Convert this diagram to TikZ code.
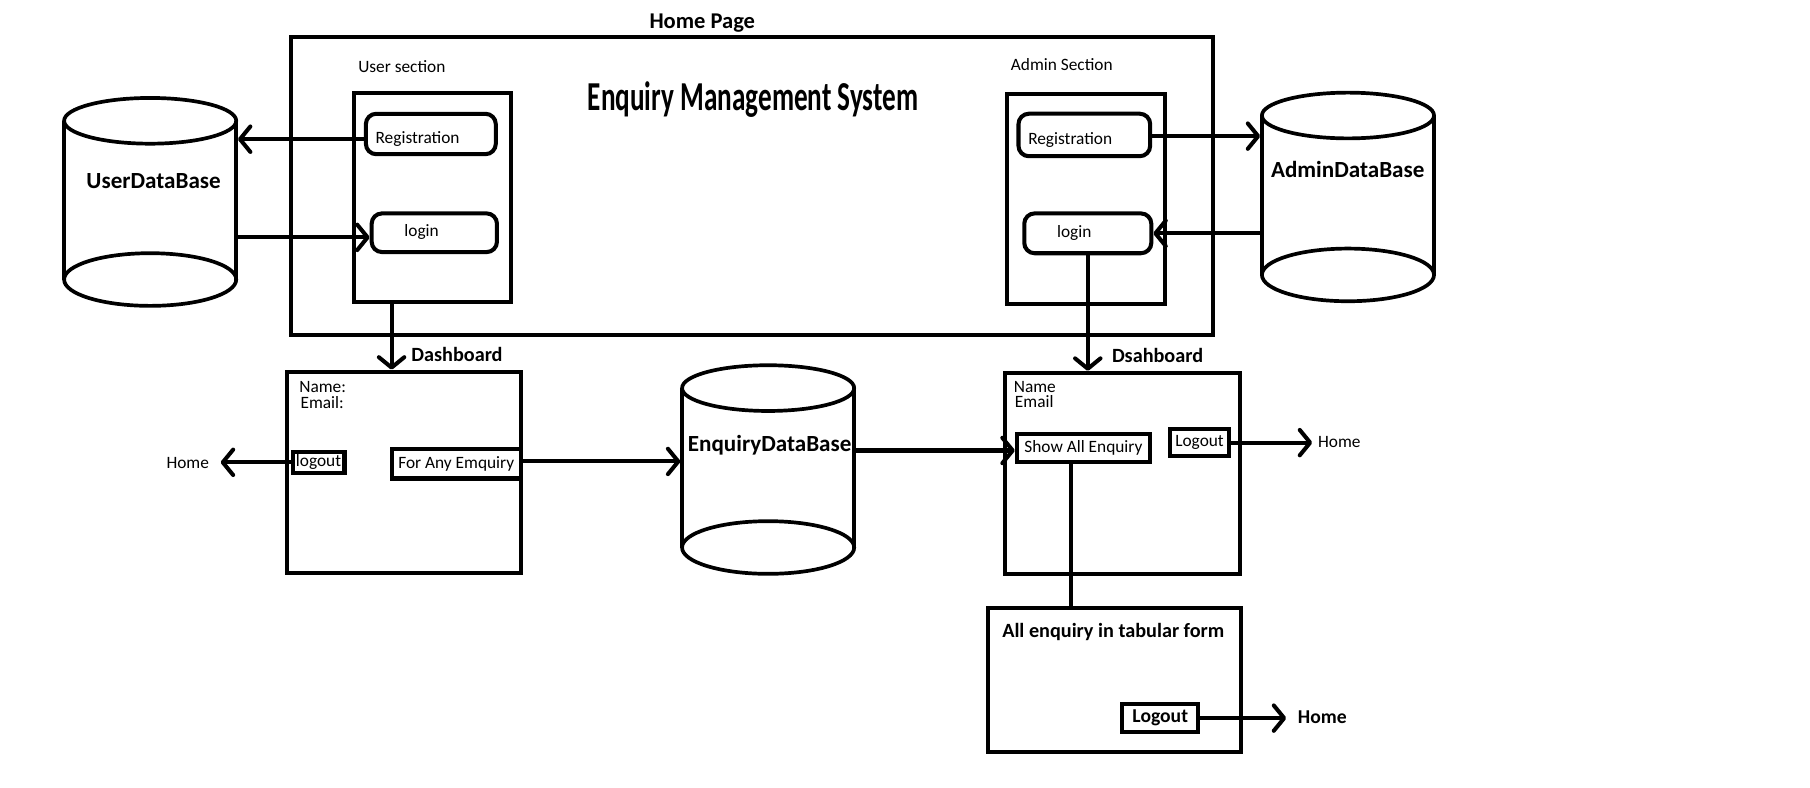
\documentclass[tikz,border=0pt]{standalone}
\usepackage{fontspec}
\usepackage{graphicx}
\setmainfont{Carlito}
\usetikzlibrary{arrows.meta}
\begin{document}
\begin{tikzpicture}[x=1pt,y=-1pt,
  bx/.style={draw, line width=3.5pt, inner sep=0pt},
  rbx/.style={bx, rounded corners=9pt},
  cyl/.style={line width=3.2pt},
  cylnode/.style={inner sep=0pt, outer sep=0pt, minimum width=152pt, minimum height=180pt},
  txt/.style={inner sep=0pt, font=\fontsize{15}{17}\selectfont},
  btxt/.style={inner sep=0pt, font=\fontsize{17.5}{20}\selectfont\bfseries},
  dbt/.style={inner sep=0pt, font=\fontsize{20}{23}\selectfont\bfseries},
  conn/.style={line width=3.5pt},
  arr/.style={conn, line join=round, -{Straight Barb[length=9pt,width=22pt,line cap=round,line join=round]}}
]
\useasboundingbox (0,0) rectangle (1567,682.2);

% ---------- Home page ----------
\node[bx, minimum width=798.5pt, minimum height=258.5pt] (home) at (651,161) {};
\node[inner sep=0pt, font=\fontsize{19.5}{22}\selectfont\bfseries] (homet) at (608,20) {Home Page};
\node[inner sep=0pt] (ems) at (652,86.4) {\resizebox*{286pt}{31pt}{\bfseries Enquiry Management System}};

% user section
\node[txt, anchor=west] (ust) at (310,58) {User section};
\node[bx, minimum width=135.5pt, minimum height=180.5pt] (usec) at (374.5,171) {};
\node[rbx, minimum width=112.5pt, minimum height=35pt] (ureg) at (373,116) {};
\node[txt, anchor=west] (uregt) at (325,120) {Registration};
\node[rbx, minimum width=108.5pt, minimum height=33.5pt] (ulogin) at (376,201.5) {};
\node[txt] (ulogint) at (365,200.5) {login};

% admin section
\node[txt, anchor=west] (ast) at (875,56.3) {Admin Section};
\node[bx, minimum width=136.5pt, minimum height=181.7pt] (asec) at (940,172) {};
\node[rbx, minimum width=114pt, minimum height=36.8pt] (areg) at (938.75,116.85) {};
\node[txt, anchor=west] (aregt) at (890,121) {Registration};
\node[rbx, minimum width=110pt, minimum height=34.5pt] (alogin) at (941.75,202) {};
\node[txt] (alogint) at (930,202) {login};

% ---------- databases ----------
\foreach \cx/\ta/\tb in {130/104.6/242, 665/336/474, 1167/100/238}{
  \draw[cyl] (\cx-74.5,\ta) -- (\cx-74.5,\tb) (\cx+74.5,\ta) -- (\cx+74.5,\tb);
  \draw[cyl] (\cx,\ta) ellipse [x radius=74.5pt, y radius=19.8pt];
  \draw[cyl] (\cx,\tb) ellipse [x radius=74.5pt, y radius=22.8pt];
}
\node[cylnode] (udb) at (130,173.3) {};
\node[cylnode] (edb) at (665,405) {};
\node[cylnode] (adb) at (1167,169) {};
\node[dbt] (udbt) at (133,157) {UserDataBase};
\node[dbt] (edbt) at (666.3,385.7) {EnquiryDataBase};
\node[dbt] (adbt) at (1166.8,147) {AdminDataBase};

% ---------- user dashboard ----------
\node[btxt, anchor=west] (udasht) at (356,307) {Dashboard};
\node[bx, minimum width=202.5pt, minimum height=174.5pt] (udash) at (350,409) {};
\node[txt, anchor=west] (uname) at (259,335.3) {Name:};
\node[txt, anchor=west] (uemail) at (260,348.2) {Email:};
\node[bx, minimum width=45pt, minimum height=18pt, font=\fontsize{15}{17}\selectfont] (logout) at (275.75,400.25) {logout};
\node[bx, minimum width=111.5pt, minimum height=25.5pt, font=\fontsize{15}{17}\selectfont] (forany) at (395,401.5) {For Any Emquiry};
\node[txt, anchor=west] (homel) at (144,400.7) {Home};

% ---------- admin dashboard ----------
\node[btxt, anchor=west] (adasht) at (962.5,308) {Dsahboard};
\node[bx, minimum width=203.5pt, minimum height=174.5pt] (adash) at (971.5,410) {};
\node[txt, anchor=west] (aname) at (877.5,335) {Name};
\node[txt, anchor=west] (aemail) at (878.5,347.5) {Email};
\node[bx, minimum width=115.5pt, minimum height=24.5pt, font=\fontsize{15}{17}\selectfont] (showall) at (938,387.6) {Show All Enquiry};
\node[bx, minimum width=51.5pt, minimum height=23pt, font=\fontsize{15}{17}\selectfont] (alogout) at (1038.5,383.2) {Logout};
\node[txt, anchor=west] (homer) at (1141,383) {Home};

% ---------- tabular view ----------
\node[bx, minimum width=219pt, minimum height=124.5pt] (allenq) at (964.75,589) {};
\node[btxt, anchor=west] (allenqt) at (867.5,547) {All enquiry in tabular form};
\node[bx, minimum width=65.5pt, minimum height=24pt, font=\fontsize{17}{19}\selectfont\bfseries] (blogout) at (1004.5,621.7) {Logout};
\node[inner sep=0pt, anchor=west, font=\fontsize{17}{19}\selectfont\bfseries] (homeb) at (1123.5,621) {Home};

% ---------- connectors ----------
\coordinate (q1) at ([yshift=-4.5pt]ureg.west);
\draw[arr] (q1) -- (q1 -| udb.east);
\coordinate (q2) at ([yshift=-4pt]ulogin.west);
\draw[arr] (q2 -| udb.east) -- (q2);
\coordinate (q3) at ([xshift=-35.5pt]usec.south);
\draw[arr] (q3) -- (q3 |- udash.north);
\draw[arr] (alogin.south) -- (alogin.south |- adash.north);
\coordinate (q5) at ([yshift=-1pt]areg.east);
\draw[arr] (q5) -- (q5 -| adb.west);
\coordinate (q6) at (alogin.east);
\draw[arr] ([xshift=3pt]q6 -| adb.west) -- (q6);
\coordinate (q7) at ([xshift=10pt]homel.east);
\draw[arr] (logout.west) -- (logout.west -| q7);
\coordinate (q8) at ([yshift=2pt]forany.east);
\draw[arr] (q8) -- (q8 -| edb.west);
\coordinate (q9) at ([yshift=-2.4pt]showall.west);
\draw[arr] (q9 -| edb.east) -- (q9);
\coordinate (q10) at ([xshift=-5pt]homer.west);
\draw[arr] (alogout.east) -- (alogout.east -| q10);
\coordinate (q11) at ([xshift=-10.5pt]showall.south);
\draw[conn] (q11) -- (q11 |- allenq.north);
\coordinate (q12) at ([xshift=-10pt]homeb.west);
\draw[arr] (blogout.east) -- (blogout.east -| q12);
\end{tikzpicture}
\end{document}
